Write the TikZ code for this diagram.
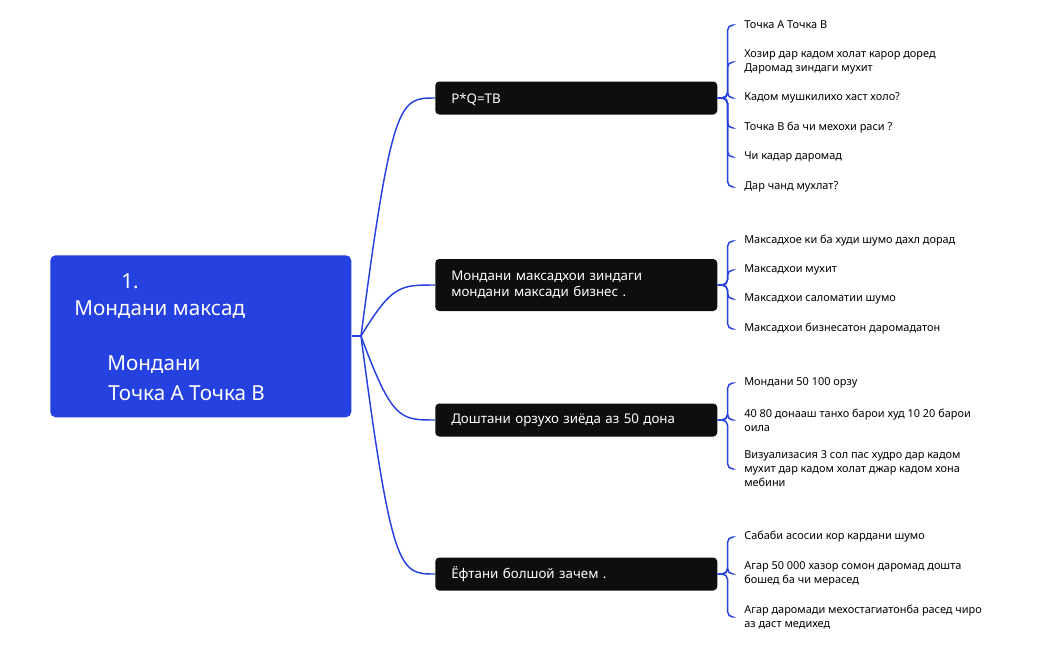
\documentclass[tikz,border=0pt]{standalone}
\usepackage{fontspec}
\setmainfont{Noto Sans}
\begin{document}
\begin{tikzpicture}[x=0.75pt,y=-0.75pt,
  conn/.style={draw={rgb,255:red,37;green,65;blue,224},line width=1.1pt},
  br/.style={fill={rgb,255:red,14;green,14;blue,14},rounded corners=3pt,text=white,font=\bfseries\fontsize{10}{12}\selectfont,anchor=west,align=left,inner xsep=0pt,minimum width=282*0.75pt,text width=266*0.75pt,minimum height=33*0.75pt},
  lf/.style={anchor=west,align=left,font=\fontsize{8.2}{10.5}\selectfont,inner sep=0pt},
  rt/.style={text=white,font=\bfseries\fontsize{15.5}{18}\selectfont,anchor=west,inner sep=0pt}]
\useasboundingbox (0,0) rectangle (1049,650);
\node[fill={rgb,255:red,37;green,65;blue,224},rounded corners=4pt,minimum width=301*0.75pt,minimum height=162*0.75pt,anchor=north west] (root) at (50,255) {};
\node[rt] (r1) at (121,281) {1.};
\node[rt] (r2) at (74,310) {Мондани максад};
\node[rt] (r3) at (107,365) {Мондани};
\node[rt] (r4) at (108,393) {Точка А Точка В};
\coordinate (hub) at (361,336);
\draw[conn] (root.east |- hub) -- (hub);

\node[br,text depth=0pt] (b1) at (435,98) {\hspace*{15\pgflinewidth}P*Q=TB};
\node[br,minimum height=52*0.75pt] (b2) at (435,285) {\hspace*{15\pgflinewidth}Мондани максадхои зиндаги\\\hspace*{15\pgflinewidth}мондани максади бизнес .};
\node[br] (b3) at (435,420) {\hspace*{15\pgflinewidth}Доштани орзухо зиёда аз 50 дона};
\node[br] (b4) at (435,574) {\hspace*{15\pgflinewidth}Ёфтани болшой зачем .};

\foreach \b/\y in {b1/98,b2/285,b3/420,b4/574}{
  \draw[conn] (hub) .. controls (392,\y) and (400,\y) .. (\b.west);
}

% leaves
\node[lf] (l11) at (744,25) {Точка А Точка В};
\node[lf] (l12) at (744,62) {Хозир дар кадом холат карор доред\\Даромад зиндаги мухит};
\node[lf] (l13) at (744,98) {Кадом мушкилихо хаст холо?};
\node[lf] (l14) at (744,128) {Точка В ба чи мехохи раси ?};
\node[lf] (l15) at (744,157) {Чи кадар даромад};
\node[lf] (l16) at (744,187) {Дар чанд мухлат?};
\node[lf] (l21) at (744,241) {Максадхое ки ба худи шумо дахл дорад};
\node[lf] (l22) at (744,270) {Максадхои мухит};
\node[lf] (l23) at (744,299) {Максадхои саломатии шумо};
\node[lf] (l24) at (744,329) {Максадхои бизнесатон даромадатон};
\node[lf] (l31) at (744,383) {Мондани 50 100 орзу};
\node[lf] (l32) at (744,420) {40 80 донааш танхо барои худ 10 20 барои\\оила};
\node[lf] (l33) at (744,469) {Визуализасия 3 сол пас худро дар кадом\\мухит дар кадом холат джар кадом хона\\мебини};
\node[lf] (l41) at (744,537) {Сабаби асосии кор кардани шумо};
\node[lf] (l42) at (744,574) {Агар 50 000 хазор сомон даромад дошта\\бошед ба чи мерасед};
\node[lf] (l43) at (744,617) {Агар даромади мехостагиатонба расед чиро\\аз даст медихед};

\foreach \b/\ls in {b1/{l11,l12,l13,l14,l15,l16},b2/{l21,l22,l23,l24},b3/{l31,l32,l33},b4/{l41,l42,l43}}{
  \foreach \l in \ls {
    \draw[conn,rounded corners=4pt] (\b.east) -- ++(10,0) |- ([xshift=-9pt]\l.west);
  }
}
\end{tikzpicture}
\end{document}
